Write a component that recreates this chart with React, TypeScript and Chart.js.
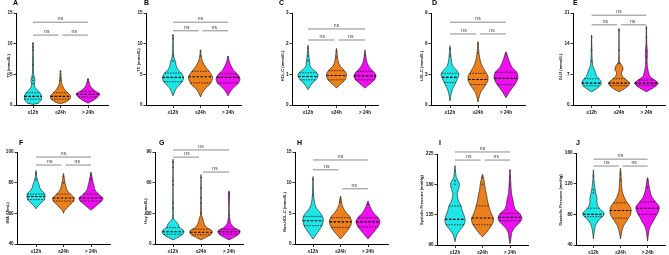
import React, { useEffect, useRef } from "react";
import { Chart, registerables } from "chart.js";
Chart.register(...registerables);

// ---------- DATA ----------
const categories = ["≤12h", "≤24h", "> 24h"];
const panelLetters = ["A", "B", "C", "D", "E", "F", "G", "H", "I", "J"];
const yTitles = [
  "TG (mmol/L)", "TC (mmol/L)", "HDL-C (mmol/L)", "LDL-C (mmol/L)", "GLU (mmol/L)",
  "IMA (U/mL)", "Hcy (mmol/L)", "Non-HDL-C (mmol/L)", "Systolic Pressure (mmHg)", "Diastolic Pressure (mmHg)",
];

const tgTicks = [0, 5, 10, 15];
const tcTicks = [0, 5, 10, 15];
const hdlTicks = [0, 1, 2, 3];
const ldlTicks = [0, 3, 6, 9];
const gluTicks = [0, 7, 14, 21];
const imaTicks = [40, 60, 80, 100];
const hcyTicks = [0, 30, 60, 90];
const nonHdlTicks = [0, 5, 10, 15];
const sbpTicks = [90, 135, 180, 225];
const dbpTicks = [40, 80, 120, 160];

// violin density profiles: [value, relative density]  (≤12h, ≤24h, >24h)
const tgViolins = [
  [[0.1, 0], [0.3, 0.45], [0.9, 0.7], [1.4, 0.72], [1.9, 0.62], [2.4, 0.38], [2.8, 0.2], [3.2, 0.12], [3.8, 0.15], [4.3, 0.15], [4.8, 0.07], [5.5, 0.04], [6.5, 0.04], [8, 0.03], [10.2, 0]],
  [[0.2, 0], [0.5, 0.45], [1.0, 0.8], [1.5, 0.83], [2.0, 0.6], [2.5, 0.35], [3.0, 0.2], [3.5, 0.1], [4.5, 0.05], [5.6, 0]],
  [[0.3, 0], [0.7, 0.4], [1.2, 0.75], [1.8, 1.0], [2.3, 0.6], [2.8, 0.3], [3.3, 0.15], [3.8, 0.08], [4.3, 0]],
];
const tcViolins = [
  [[1.5, 0], [2.2, 0.15], [2.8, 0.3], [3.3, 0.55], [3.9, 0.8], [4.5, 0.88], [5.2, 0.7], [5.8, 0.4], [6.5, 0.25], [7.0, 0.22], [7.6, 0.1], [8.5, 0.04], [10, 0.02], [11.5, 0]],
  [[1.3, 0], [2.0, 0.15], [2.7, 0.4], [3.3, 0.75], [4.0, 0.95], [4.6, 1.0], [5.3, 0.8], [6.0, 0.5], [6.6, 0.3], [7.2, 0.15], [8.0, 0.06], [9.0, 0]],
  [[1.5, 0], [2.2, 0.2], [2.9, 0.5], [3.5, 0.85], [4.2, 1.0], [4.9, 0.85], [5.6, 0.5], [6.2, 0.3], [7.0, 0.12], [8.0, 0]],
];
const hdlViolins = [
  [[0.5, 0], [0.6, 0.15], [0.7, 0.35], [0.8, 0.6], [0.9, 0.8], [1.0, 0.83], [1.1, 0.6], [1.2, 0.3], [1.3, 0.15], [1.4, 0.15], [1.5, 0.1], [1.7, 0.05], [1.95, 0]],
  [[0.55, 0], [0.65, 0.25], [0.75, 0.55], [0.85, 0.75], [0.95, 0.83], [1.05, 0.8], [1.15, 0.6], [1.25, 0.35], [1.35, 0.2], [1.5, 0.1], [1.65, 0.06], [1.85, 0]],
  [[0.55, 0], [0.65, 0.3], [0.75, 0.6], [0.85, 0.85], [0.95, 0.92], [1.05, 0.8], [1.15, 0.55], [1.25, 0.35], [1.35, 0.2], [1.5, 0.1], [1.65, 0.05], [1.8, 0]],
];
const ldlViolins = [
  [[0.4, 0], [1.0, 0.08], [1.5, 0.2], [2.0, 0.4], [2.5, 0.6], [3.0, 0.75], [3.4, 0.55], [3.8, 0.25], [4.3, 0.12], [5.0, 0.06], [5.8, 0]],
  [[0.3, 0], [0.8, 0.1], [1.3, 0.25], [1.8, 0.55], [2.3, 0.8], [2.8, 0.83], [3.3, 0.6], [3.8, 0.35], [4.3, 0.2], [4.9, 0.1], [5.5, 0.05], [6.2, 0]],
  [[0.7, 0], [1.2, 0.25], [1.7, 0.55], [2.2, 0.85], [2.7, 1.0], [3.2, 0.9], [3.7, 0.5], [4.2, 0.3], [4.7, 0.15], [5.2, 0]],
];
const gluViolins = [
  [[3.0, 0], [3.5, 0.3], [4.2, 0.65], [5.0, 0.83], [5.8, 0.7], [6.5, 0.45], [7.2, 0.35], [8.0, 0.25], [9.0, 0.1], [10.5, 0.05], [12, 0.03], [16, 0]],
  [[3.0, 0], [3.6, 0.4], [4.3, 0.75], [5.0, 0.9], [5.8, 0.6], [6.5, 0.3], [7.3, 0.2], [8.2, 0.35], [9.0, 0.25], [9.8, 0.05], [11, 0.02], [17.5, 0]],
  [[3.0, 0], [3.6, 0.4], [4.3, 0.8], [5.0, 1.0], [5.8, 0.65], [6.5, 0.3], [7.3, 0.2], [8.5, 0.1], [10, 0.06], [12, 0.08], [14, 0.03], [18, 0]],
];
const imaViolins = [
  [[63, 0], [65, 0.2], [67, 0.45], [69, 0.7], [71, 0.75], [73, 0.72], [75, 0.45], [77, 0.3], [79, 0.25], [81, 0.15], [84, 0.06], [88, 0]],
  [[60, 0], [62, 0.1], [64, 0.35], [66, 0.6], [68, 0.85], [70, 0.9], [72, 0.65], [74, 0.4], [76, 0.25], [79, 0.15], [82, 0.08], [86, 0]],
  [[62, 0], [64, 0.3], [66, 0.6], [68, 0.9], [70, 1.0], [72, 0.7], [74, 0.45], [76, 0.3], [78, 0.25], [81, 0.15], [84, 0.08], [87, 0]],
];
const hcyViolins = [
  [[4, 0], [7, 0.5], [10, 0.85], [13, 0.9], [16, 0.55], [19, 0.45], [22, 0.25], [25, 0.05], [35, 0.02], [83, 0]],
  [[4, 0], [7, 0.5], [10, 0.9], [13, 0.92], [16, 0.5], [19, 0.3], [22, 0.2], [25, 0.15], [28, 0.05], [40, 0.02], [68, 0]],
  [[4, 0], [7, 0.5], [10, 0.85], [13, 0.92], [16, 0.45], [19, 0.2], [22, 0.1], [27, 0.04], [35, 0.02], [48, 0.05], [52, 0]],
];
const nonHdlViolins = [
  [[0.8, 0], [1.5, 0.25], [2.2, 0.5], [3.0, 0.75], [3.8, 0.85], [4.5, 0.8], [5.2, 0.55], [5.8, 0.3], [6.5, 0.15], [8, 0.05], [11, 0]],
  [[0.8, 0], [1.5, 0.3], [2.2, 0.6], [3.0, 0.85], [3.7, 0.92], [4.4, 0.8], [5.1, 0.5], [5.8, 0.25], [6.5, 0.12], [7.8, 0]],
  [[0.8, 0], [1.5, 0.3], [2.2, 0.6], [3.0, 0.9], [3.7, 1.0], [4.4, 0.8], [5.1, 0.45], [5.8, 0.25], [6.5, 0.1], [7.0, 0]],
];
const sbpViolins = [
  [[95, 0], [105, 0.15], [113, 0.45], [120, 0.75], [127, 0.85], [134, 0.75], [141, 0.6], [148, 0.5], [155, 0.3], [162, 0.2], [168, 0.2], [176, 0.35], [182, 0.35], [190, 0.12], [198, 0.05], [208, 0]],
  [[102, 0], [108, 0.3], [115, 0.6], [122, 0.85], [129, 0.92], [136, 0.75], [143, 0.6], [150, 0.5], [157, 0.4], [164, 0.35], [171, 0.25], [178, 0.2], [186, 0.12], [195, 0]],
  [[92, 0], [100, 0.08], [108, 0.15], [115, 0.35], [122, 0.75], [129, 1.0], [136, 0.85], [143, 0.45], [150, 0.3], [157, 0.25], [164, 0.15], [172, 0.1], [185, 0.06], [202, 0]],
];
const dbpViolins = [
  [[48, 0], [58, 0.08], [66, 0.2], [73, 0.5], [78, 0.85], [82, 0.92], [87, 0.55], [92, 0.35], [97, 0.3], [102, 0.3], [108, 0.2], [115, 0.12], [125, 0.05], [138, 0]],
  [[48, 0], [58, 0.12], [66, 0.3], [73, 0.6], [79, 0.85], [85, 0.92], [91, 0.8], [97, 0.5], [103, 0.3], [110, 0.15], [118, 0.1], [128, 0.06], [140, 0]],
  [[45, 0], [55, 0.08], [63, 0.2], [70, 0.45], [77, 0.7], [84, 0.95], [90, 1.0], [96, 0.7], [102, 0.4], [108, 0.25], [115, 0.15], [122, 0.08], [128, 0]],
];

// [median, q1, q3] per group
const tgStats = [[1.4, 0.95, 2.0], [1.4, 0.95, 2.0], [1.75, 1.3, 2.2]];
const tcStats = [[4.5, 3.8, 5.2], [4.6, 3.6, 5.5], [4.5, 3.6, 5.1]];
const hdlStats = [[0.93, 0.82, 1.05], [0.96, 0.82, 1.12], [0.95, 0.82, 1.1]];
const ldlStats = [[2.7, 2.2, 3.1], [2.5, 2.0, 3.1], [2.6, 2.0, 3.2]];
const gluStats = [[5.0, 4.4, 6.0], [5.0, 4.4, 6.0], [5.0, 4.5, 5.7]];
const imaStats = [[71, 69, 72.5], [70, 68, 72.5], [70, 68, 72.5]];
const hcyStats = [[12, 9.5, 16], [11.5, 9, 14.5], [12, 9.5, 14.5]];
const nonHdlStats = [[3.8, 3.0, 4.5], [3.6, 2.7, 4.3], [3.6, 2.8, 4.3]];
const sbpStats = [[128, 120, 148], [130, 120, 148], [131, 126, 137]];
const dbpStats = [[80, 77, 88], [85, 75, 95], [88, 80, 96]];

// visible individual points in the violin tails
const tgDots = [[10.0, 9.5, 9.0, 6.5, 4.5, 4.0, 3.5], [5.5, 5.0, 4.5, 4.0], [4.2, 3.8]];
const tcDots = [[11.3, 10.8, 8.0, 7.2], [8.8, 8.0], [7.8]];
const hdlDots = [[1.85, 1.6, 1.45], [1.75, 1.55], [1.64]];
const ldlDots = [[5.5, 4.8], [6.0, 5.1], [5.0]];
const gluDots = [[15.5, 12.5, 10], [17.0, 12.5, 9.5], [17.5, 15.5, 13.5, 12.5, 11.0]];
const imaDots = [[86, 82], [84, 80], [85, 82]];
const hcyDots = [[80, 75, 62, 58, 40, 35], [65, 55, 45, 40, 30], [50, 49, 28]];
const nonHdlDots = [[10.5, 8], [7.2, 6.8], [6.5]];
const sbpDots = [[200, 185, 180], [190, 180], [200, 190, 180]];
const dbpDots = [[130, 112, 108], [135, 132, 125], [125, 115]];

// significance brackets: [fromGroup, toGroup, y]
const tgBrackets = [[1, 3, 13.5], [1, 2, 11.4], [2, 3, 11.4]];
const tcBrackets = [[1, 3, 13.5], [1, 2, 12.1], [2, 3, 12.1]];
const hdlBrackets = [[1, 3, 2.48], [1, 2, 2.12], [2, 3, 2.12]];
const ldlBrackets = [[1, 3, 8.1], [1, 2, 6.95], [2, 3, 6.95]];
const gluBrackets = [[1, 3, 20.5], [1, 2, 18.3], [2, 3, 18.3]];
const imaBrackets = [[1, 3, 96.7], [1, 2, 91.5], [2, 3, 91.5]];
const hcyBrackets = [[1, 3, 92], [1, 2, 85], [2, 3, 70.4]];
const nonHdlBrackets = [[1, 3, 13.7], [1, 2, 12.1], [2, 3, 9.0]];
const sbpBrackets = [[1, 3, 228], [1, 2, 216], [2, 3, 216]];
const dbpBrackets = [[1, 3, 152], [1, 2, 143], [2, 3, 143]];
const bracketLabel = "ns";

const panelData = [
  { ticks: tgTicks, violins: tgViolins, stats: tgStats, dots: tgDots, brackets: tgBrackets },
  { ticks: tcTicks, violins: tcViolins, stats: tcStats, dots: tcDots, brackets: tcBrackets },
  { ticks: hdlTicks, violins: hdlViolins, stats: hdlStats, dots: hdlDots, brackets: hdlBrackets },
  { ticks: ldlTicks, violins: ldlViolins, stats: ldlStats, dots: ldlDots, brackets: ldlBrackets },
  { ticks: gluTicks, violins: gluViolins, stats: gluStats, dots: gluDots, brackets: gluBrackets },
  { ticks: imaTicks, violins: imaViolins, stats: imaStats, dots: imaDots, brackets: imaBrackets },
  { ticks: hcyTicks, violins: hcyViolins, stats: hcyStats, dots: hcyDots, brackets: hcyBrackets },
  { ticks: nonHdlTicks, violins: nonHdlViolins, stats: nonHdlStats, dots: nonHdlDots, brackets: nonHdlBrackets },
  { ticks: sbpTicks, violins: sbpViolins, stats: sbpStats, dots: sbpDots, brackets: sbpBrackets },
  { ticks: dbpTicks, violins: dbpViolins, stats: dbpStats, dots: dbpDots, brackets: dbpBrackets },
];

// ---------- LAYOUT / STYLE ----------
const W = 669;
const H = 255;
const COLORS = ["#1FE6E6", "#EC801C", "#F00FF0"];
const FONT = '"Liberation Sans", Arial, sans-serif';
const VIOLIN_HALF_PX = 12;
const Y_AXIS_W = 14;
const X_AXIS_H = 12;

const layouts = [
  { axisX: 16, rightX: 108, top: 13, bottom: 105, c1: 33, c3: 88, titleX: 9, titleY: 66, letterX: 13, letterY: -1 },
  { axisX: 146, rightX: 241, top: 13, bottom: 105, c1: 173, c3: 228, titleX: 139, titleY: 60, letterX: 144, letterY: -1 },
  { axisX: 292, rightX: 378, top: 13, bottom: 105, c1: 308, c3: 365, titleX: 283, titleY: 66, letterX: 279, letterY: -1 },
  { axisX: 431, rightX: 525, top: 13, bottom: 105, c1: 450, c3: 506, titleX: 422, titleY: 66, letterX: 432, letterY: -1 },
  { axisX: 573, rightX: 667, top: 13, bottom: 105, c1: 592, c3: 648, titleX: 561, titleY: 67, letterX: 573, letterY: -1 },
  { axisX: 17, rightX: 110, top: 152, bottom: 244, c1: 36, c3: 91, titleX: 8, titleY: 213, letterX: 19, letterY: 139 },
  { axisX: 155, rightX: 243, top: 152, bottom: 244, c1: 173, c3: 229, titleX: 146, titleY: 211, letterX: 159, letterY: 139 },
  { axisX: 295, rightX: 388, top: 152, bottom: 244, c1: 313, c3: 368, titleX: 285, titleY: 212, letterX: 297, letterY: 139 },
  { axisX: 437, rightX: 528, top: 154, bottom: 245, c1: 455, c3: 510, titleX: 422, titleY: 200, letterX: 439, letterY: 139 },
  { axisX: 576, rightX: 668, top: 153, bottom: 245, c1: 594, c3: 650, titleX: 561, titleY: 200, letterX: 576, letterY: 139 },
];

function densityAt(profile: number[][], v: number): number {
  for (let i = 0; i < profile.length - 1; i++) {
    const [a, da] = profile[i];
    const [b, db] = profile[i + 1];
    if (v >= a && v <= b) return da + ((db - da) * (v - a)) / (b - a);
  }
  return 0;
}

function buildConfig(idx: number): any {
  const p = panelData[idx];
  const L = layouts[idx];
  const s = (L.c3 - L.c1) / 2;
  const xMin = 1 - (L.c1 - L.axisX) / s;
  const xMax = 3 + (L.rightX - L.c3) / s;
  const half = VIOLIN_HALF_PX / s;
  const yMin = p.ticks[0];
  const yMax = p.ticks[p.ticks.length - 1];
  const datasets: any[] = [];

  p.violins.forEach((prof, i) => {
    const cx = i + 1;
    const right = prof.map(([v, d]) => ({ x: cx + d * half, y: v }));
    const left = prof.slice().reverse().map(([v, d]) => ({ x: cx - d * half, y: v }));
    datasets.push({
      data: [...right, ...left.slice(1)],
      showLine: true,
      fill: "shape",
      backgroundColor: COLORS[i],
      borderColor: "#111",
      borderWidth: 0.6,
      pointRadius: 0,
      tension: 0.25,
      capBezierPoints: false,
      order: 4,
      clip: false,
    });
    const [med, q1, q3] = p.stats[i];
    [q1, q3].forEach((q) => {
      const hw = densityAt(prof, q) * half;
      datasets.push({
        data: [{ x: cx - hw, y: q }, { x: cx + hw, y: q }],
        showLine: true,
        borderColor: "#000",
        borderWidth: 0.7,
        borderDash: [1.5, 1.2],
        pointRadius: 0,
        order: 3,
      });
    });
    const mw = densityAt(prof, med) * half;
    datasets.push({
      data: [{ x: cx - mw, y: med }, { x: cx + mw, y: med }],
      showLine: true,
      borderColor: "#000",
      borderWidth: 1.1,
      borderDash: [2.5, 1.5],
      pointRadius: 0,
      order: 2,
    });
    datasets.push({
      data: p.dots[i].map((v) => ({ x: cx, y: v })),
      showLine: false,
      pointRadius: 0.9,
      pointBackgroundColor: "rgba(60,60,60,0.85)",
      pointBorderWidth: 0,
      order: 1,
      clip: false,
    });
  });

  p.brackets.forEach(([a, b, y]) => {
    const x1 = a + (a === 2 ? 0.07 : 0);
    const x2 = b - (b === 2 ? 0.07 : 0);
    datasets.push({
      data: [{ x: x1, y }, { x: x2, y }],
      showLine: true,
      borderColor: "#8a8a8a",
      borderWidth: 1,
      pointRadius: 0,
      order: 0,
      clip: false,
    });
  });

  const annot = {
    id: "annot" + idx,
    afterDatasetsDraw(chart: any) {
      const { ctx } = chart;
      const xs = chart.scales.x;
      const ys = chart.scales.y;
      ctx.save();
      ctx.fillStyle = "#333";
      ctx.font = `5px ${FONT}`;
      ctx.textAlign = "center";
      ctx.textBaseline = "bottom";
      p.brackets.forEach(([a, b, y]) => {
        ctx.fillText(bracketLabel, xs.getPixelForValue((a + b) / 2), ys.getPixelForValue(y) - 1);
      });
      ctx.translate(L.titleX, L.titleY);
      ctx.rotate(-Math.PI / 2);
      ctx.fillStyle = "#111";
      ctx.font = `bold 4px ${FONT}`;
      ctx.textBaseline = "middle";
      ctx.fillText(yTitles[idx], 0, 0);
      ctx.restore();
    },
  };

  return {
    type: "scatter",
    data: { datasets },
    plugins: [annot],
    options: {
      animation: false,
      responsive: false,
      devicePixelRatio: 1,
      events: [],
      layout: {
        padding: {
          left: L.axisX - Y_AXIS_W,
          right: W - L.rightX,
          top: L.top,
          bottom: H - L.bottom - X_AXIS_H,
        },
      },
      plugins: { legend: { display: false }, tooltip: { enabled: false } },
      scales: {
        x: {
          type: "linear",
          min: xMin,
          max: xMax,
          afterBuildTicks: (ax: any) => {
            ax.ticks = [1, 2, 3].map((v) => ({ value: v }));
          },
          afterFit: (ax: any) => {
            ax.height = X_AXIS_H;
          },
          ticks: {
            callback: (v: any) => categories[Math.round(v) - 1] ?? "",
            font: { size: 4.6, weight: "bold", family: FONT },
            color: "#111",
            padding: 1.5,
            maxRotation: 0,
            autoSkip: false,
          },
          grid: { drawOnChartArea: false, drawTicks: true, tickLength: 3, color: "#000", lineWidth: 0.8 },
          border: { display: true, color: "#000", width: 1 },
        },
        y: {
          type: "linear",
          min: yMin,
          max: yMax,
          afterBuildTicks: (ax: any) => {
            ax.ticks = p.ticks.map((v) => ({ value: v }));
          },
          afterFit: (ax: any) => {
            ax.width = Y_AXIS_W;
          },
          ticks: {
            font: { size: 4.6, weight: "bold", family: FONT },
            color: "#111",
            padding: 1,
            autoSkip: false,
          },
          grid: { drawOnChartArea: false, drawTicks: true, tickLength: 2.5, color: "#000", lineWidth: 0.8 },
          border: { display: true, color: "#000", width: 1 },
        },
      },
    },
  };
}

function Panel({ idx }: { idx: number }) {
  const ref = useRef<HTMLCanvasElement | null>(null);
  useEffect(() => {
    if (!ref.current) return;
    const chart = new Chart(ref.current, buildConfig(idx));
    return () => chart.destroy();
  }, [idx]);
  return (
    <canvas
      ref={ref}
      width={W}
      height={H}
      style={{ position: "absolute", left: 0, top: 0, width: W, height: H }}
    />
  );
}

export default function App() {
  return (
    <div style={{ position: "fixed", left: 0, top: 0, width: W, height: H, background: "#fff", overflow: "hidden" }}>
      {panelData.map((_, i) => (
        <Panel key={i} idx={i} />
      ))}
      {panelLetters.map((l, i) => (
        <div
          key={l}
          style={{
            position: "absolute",
            left: layouts[i].letterX,
            top: layouts[i].letterY,
            fontFamily: FONT,
            fontWeight: "bold",
            fontSize: 7,
            lineHeight: "8px",
            color: "#000",
          }}
        >
          {l}
        </div>
      ))}
    </div>
  );
}
